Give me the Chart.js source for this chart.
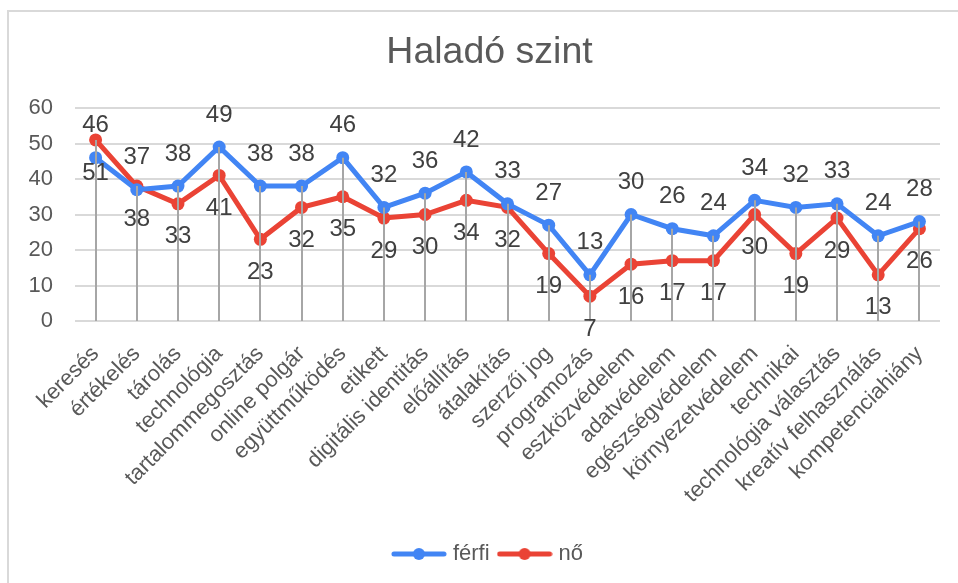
<!DOCTYPE html>
<html>
<head>
<meta charset="utf-8">
<script src="https://cdn.jsdelivr.net/npm/chart.js@4.4.1/dist/chart.umd.min.js"></script>
<style>
  html, body { margin: 0; padding: 0; background: #fff; overflow: hidden; }
  #frame { position: absolute; left: 7px; top: 10px; width: 2000px; height: 2000px; border: 2px solid #d9d9d9; }
  #wrap { position: absolute; left: 0; top: 0; width: 958px; height: 583px; }
</style>
</head>
<body>
<div id="frame"></div>
<div id="wrap"><canvas id="chart" width="958" height="583"></canvas></div>
<script>
// Haladó szint - férfi / nő
const categories = [
    'keresés', 'értékelés', 'tárolás', 'technológia', 'tartalommegosztás', 'online polgár',
    'együttműködés', 'etikett', 'digitális identitás', 'előállítás', 'átalakítás', 'szerzői jog',
    'programozás', 'eszközvédelem', 'adatvédelem', 'egészségvédelem', 'környezetvédelem',
    'technikai', 'technológia választás', 'kreatív felhasználás', 'kompetenciahiány'
];
const ferfi = [46, 37, 38, 49, 38, 38, 46, 32, 36, 42, 33, 27, 13, 30, 26, 24, 34, 32, 33, 24, 28];
const no = [51, 38, 33, 41, 23, 32, 35, 29, 30, 34, 32, 19, 7, 16, 17, 17, 30, 19, 29, 13, 26];
const yTicks = [0, 10, 20, 30, 40, 50, 60];

const FONT = '"Liberation Sans", Arial, sans-serif';
const TEXT = '#595959';
const BLUE = '#4285f4';
const RED = '#ea4335';

// legend marker: line with a dot in the middle
function legendMarker(color) {
    const c = document.createElement('canvas');
    c.width = 56; c.height = 14;
    const g = c.getContext('2d');
    g.strokeStyle = color;
    g.lineWidth = 5;
    g.lineCap = 'round';
    g.beginPath(); g.moveTo(3, 7); g.lineTo(53, 7); g.stroke();
    g.fillStyle = color;
    g.beginPath(); g.arc(28, 7, 6, 0, Math.PI * 2); g.fill();
    return c;
}

// y tick labels sit left of the padded box, so don't clip them
const noLabelClip = {
    id: 'noLabelClip',
    afterLayout(chart) {
        chart.scales.y._computeLabelArea = () => undefined;
    }
};

// vertical drop lines from the higher point down to the axis, then value labels
const dropAndLabels = {
    id: 'dropAndLabels',
    afterDatasetsDraw(chart) {
        const ctx = chart.ctx;
        const area = chart.chartArea;
        const m0 = chart.getDatasetMeta(0).data;
        const m1 = chart.getDatasetMeta(1).data;
        ctx.save();
        ctx.strokeStyle = '#a6a6a6';
        ctx.lineWidth = 2;
        m0.forEach((p, i) => {
            const top = Math.min(p.y, m1[i].y);
            ctx.beginPath();
            ctx.moveTo(Math.round(p.x), top);
            ctx.lineTo(Math.round(p.x), area.bottom);
            ctx.stroke();
        });
        ctx.fillStyle = '#404040';
        ctx.font = '24px ' + FONT;
        ctx.textAlign = 'center';
        ctx.textBaseline = 'middle';
        m0.forEach((p, i) => ctx.fillText(String(ferfi[i]), p.x, p.y - 32));
        m1.forEach((p, i) => ctx.fillText(String(no[i]), p.x, p.y + 33));
        ctx.restore();
    }
};

const ctx = document.getElementById('chart').getContext('2d');
new Chart(ctx, {
    type: 'line',
    data: {
        labels: categories,
        datasets: [
            {label: 'férfi', data: ferfi, borderColor: BLUE, backgroundColor: BLUE, borderWidth: 5,
             pointRadius: 6.5, pointBackgroundColor: BLUE, pointBorderWidth: 0, tension: 0, marker: legendMarker(BLUE)},
            {label: 'nő', data: no, borderColor: RED, backgroundColor: RED, borderWidth: 5,
             pointRadius: 6.5, pointBackgroundColor: RED, pointBorderWidth: 0, tension: 0, marker: legendMarker(RED)}
        ]
    },
    options: {
        responsive: false,
        animation: false,
        layout: {padding: {left: 39, right: 18, top: 0, bottom: 8}},
        plugins: {
            title: {
                display: true, text: 'Haladó szint', color: TEXT,
                font: {family: FONT, size: 37.5, weight: 'normal'},
                padding: {top: 30, bottom: 33}
            },
            legend: {
                position: 'bottom',
                labels: {
                    color: TEXT, font: {family: FONT, size: 22}, padding: 12,
                    usePointStyle: true, pointStyleWidth: 46, boxHeight: 14,
                    generateLabels(chart) {
                        return chart.data.datasets.map((ds, i) => ({
                            text: ds.label, pointStyle: ds.marker, fillStyle: ds.borderColor,
                            strokeStyle: ds.borderColor, lineWidth: 0, fontColor: TEXT,
                            hidden: false, datasetIndex: i
                        }));
                    }
                }
            },
            tooltip: {enabled: false}
        },
        scales: {
            x: {
                offset: true,
                grid: {display: false},
                border: {display: false},
                ticks: {
                    color: TEXT, font: {family: FONT, size: 22}, padding: 12,
                    minRotation: 45, maxRotation: 45, autoSkip: false
                },
                afterFit(scale) { scale.height = 210; }
            },
            y: {
                min: 0, max: 60,
                afterBuildTicks(scale) { scale.ticks = yTicks.map(v => ({value: v})); },
                grid: {color: '#d9d9d9', lineWidth: 2, drawTicks: false},
                border: {display: false},
                ticks: {color: TEXT, font: {family: FONT, size: 22}, padding: 22},
                afterFit(scale) { scale.width = 36; }
            }
        }
    },
    plugins: [noLabelClip, dropAndLabels]
});
</script>
</body>
</html>
